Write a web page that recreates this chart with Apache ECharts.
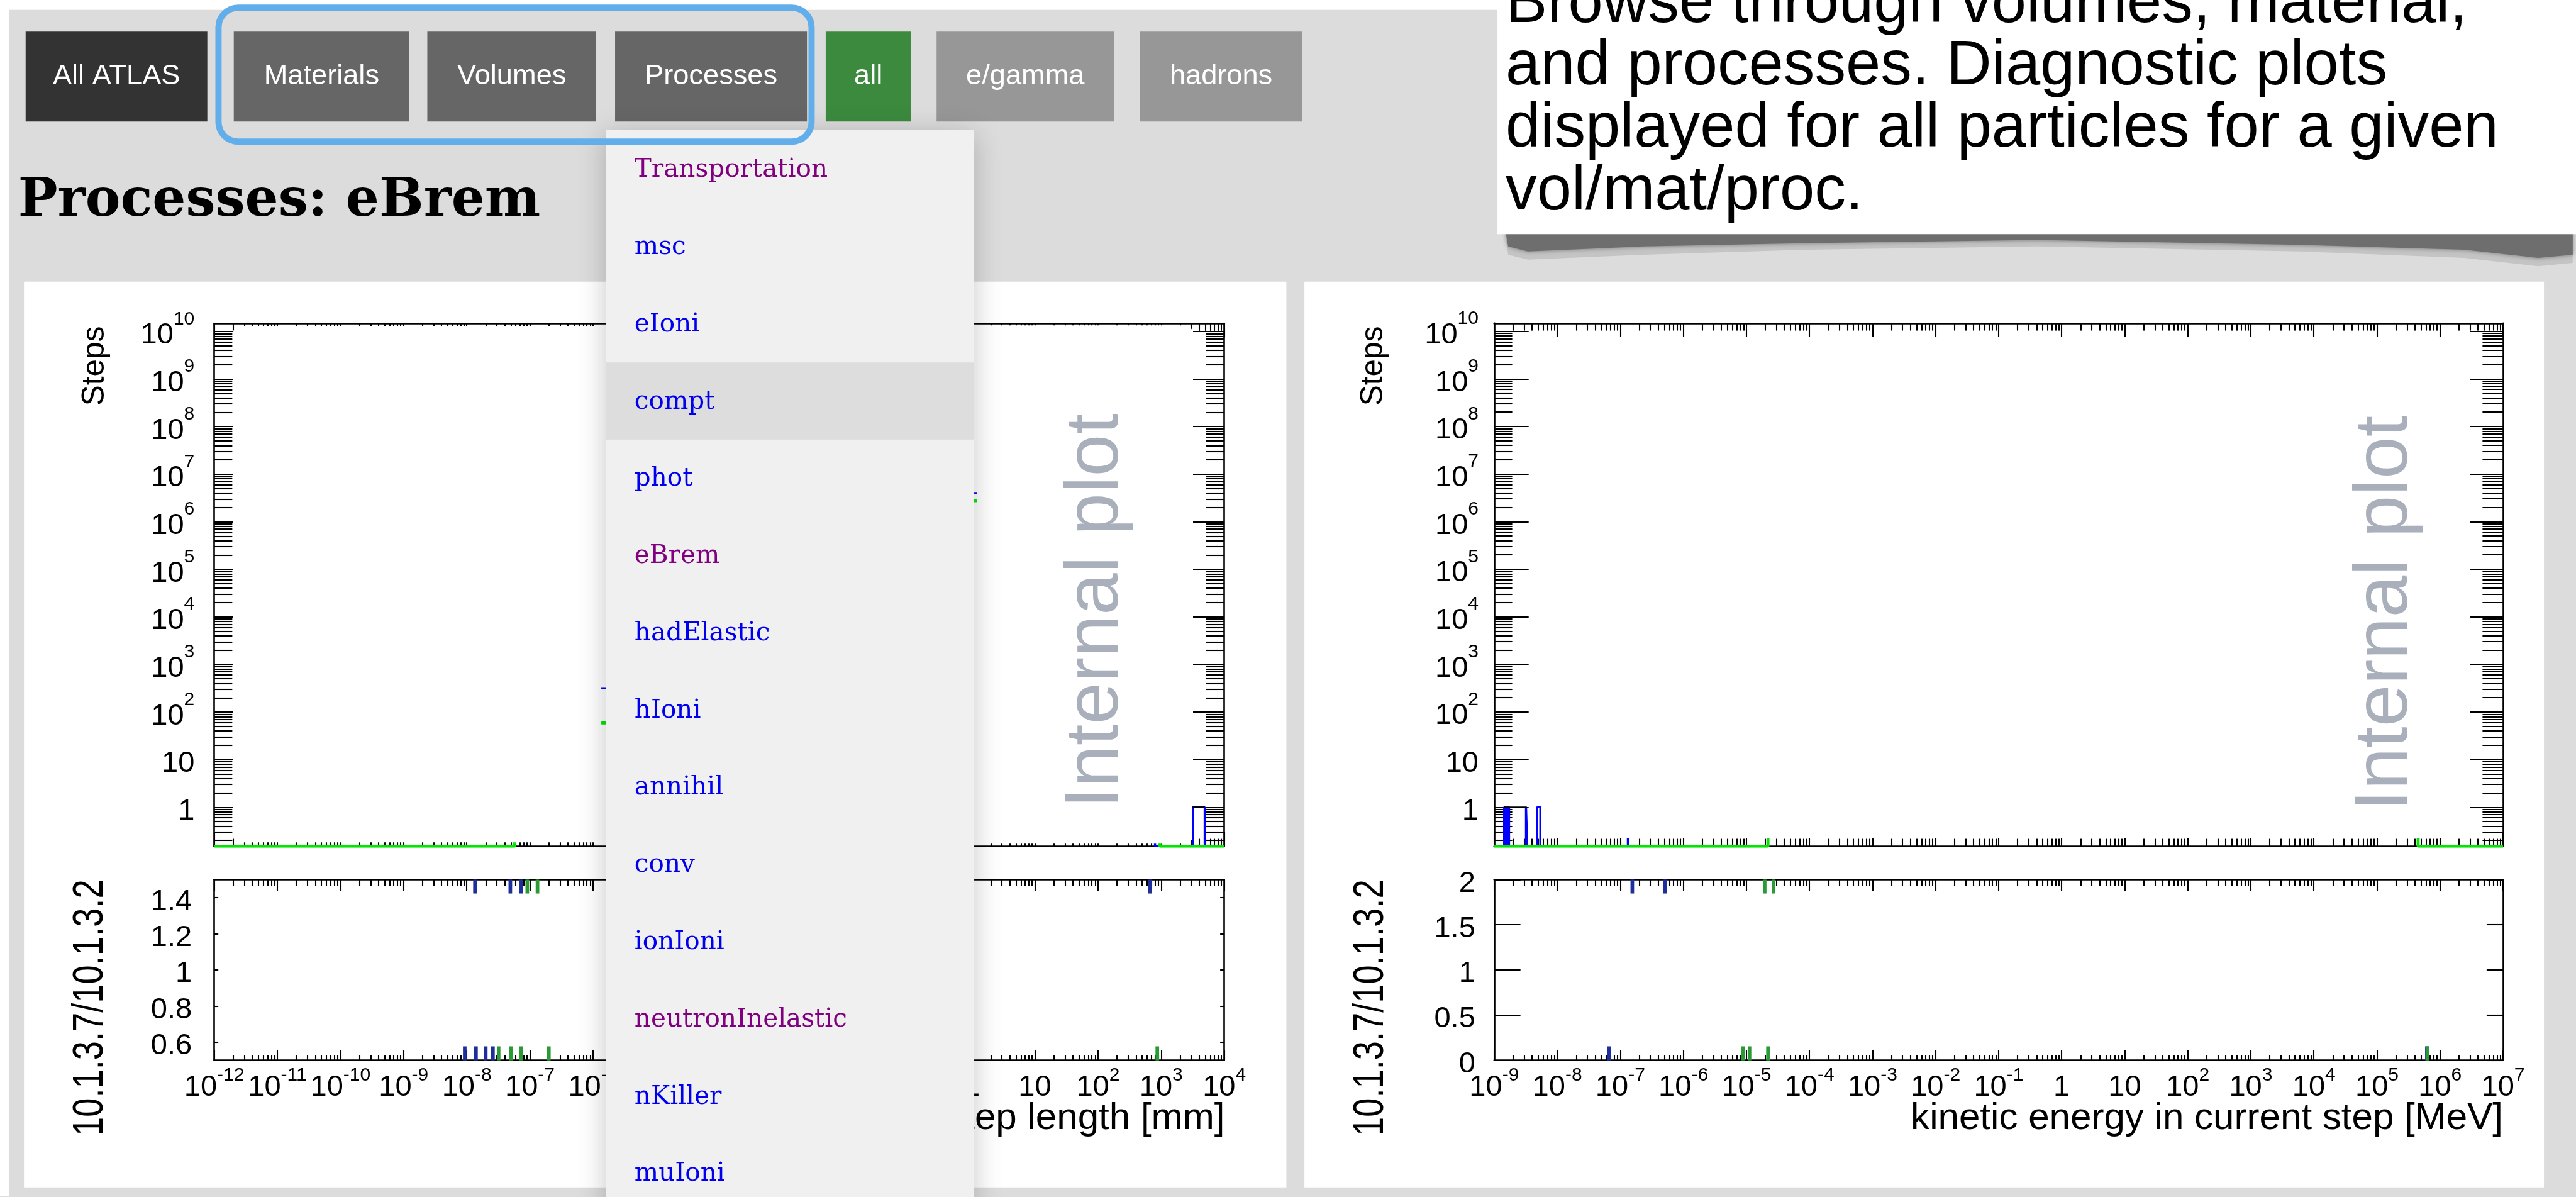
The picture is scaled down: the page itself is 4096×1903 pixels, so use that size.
<!DOCTYPE html>
<html>
<head>
<meta charset="utf-8">
<script src="https://cdn.jsdelivr.net/npm/echarts@6.0.0/dist/echarts.min.js"></script>
<style>
html,body{margin:0;padding:0;background:#dcdcdc;overflow:hidden}
#c{width:4096px;height:1903px}
</style>
</head>
<body>
<div id="c"></div>
<script>
// ---------------- data ----------------
const navButtons = ['All ATLAS', 'Materials', 'Volumes', 'Processes', 'all', 'e/gamma', 'hadrons'];
const processItems = ['Transportation', 'msc', 'eIoni', 'compt', 'phot', 'eBrem', 'hadElastic', 'hIoni',
  'annihil', 'conv', 'ionIoni', 'neutronInelastic', 'nKiller', 'muIoni'];
const visitedItems = ['Transportation', 'eBrem', 'neutronInelastic'];
const highlightedItem = 'compt';
const pageTitle = 'Processes: eBrem';
const noteLines = ['Browse through volumes, material,', 'and processes. Diagnostic plots',
  'displayed for all particles for a given', 'vol/mat/proc.'];
const watermark = 'Internal plot';

const stepLenExps = [-12, -11, -10, -9, -8, -7, -6, -5, -4, -3, -2, -1, 0, 1, 2, 3, 4];
const stepLenLabels = ['10^-12', '10^-11', '10^-10', '10^-9', '10^-8', '10^-7', '10^-6', '10^-5', '10^-4',
  '10^-3', '10^-2', '10^-1', '1', '10', '10^2', '10^3', '10^4'];
const kinEExps = [-9, -8, -7, -6, -5, -4, -3, -2, -1, 0, 1, 2, 3, 4, 5, 6, 7];
const kinELabels = ['10^-9', '10^-8', '10^-7', '10^-6', '10^-5', '10^-4', '10^-3', '10^-2', '10^-1',
  '1', '10', '10^2', '10^3', '10^4', '10^5', '10^6', '10^7'];
const stepsExps = [0, 1, 2, 3, 4, 5, 6, 7, 8, 9, 10];
const stepsLabels = ['1', '10', '10^2', '10^3', '10^4', '10^5', '10^6', '10^7', '10^8', '10^9', '10^10'];
const ratioStepTicks = [0.6, 0.8, 1, 1.2, 1.4];
const ratioStepLabels = ['0.6', '0.8', '1', '1.2', '1.4'];
const ratioKinETicks = [0, 0.5, 1, 1.5, 2];
const ratioKinELabels = ['0', '0.5', '1', '1.5', '2'];

const titleSteps = 'Steps';
const titleRatio = '10.1.3.7/10.1.3.2';
const titleStepLen = 'step length [mm]';
const titleKinE = 'kinetic energy in current step [MeV]';

// histograms: [lower bin edge, entries]  (0 entries drawn on the frame bottom, as ROOT does)
const stepLenBlue = [[1e-12, 0], [5.75e-8, 4], [1.0e-6, 186], [1.26e-6, 316], [0.5, 4.0e6], [800, 0], [3160, 1], [4900, 0], [1e4, 0]];
const stepLenGreen = [[1e-12, 0], [5.75e-8, 3], [1.0e-6, 31], [1.26e-6, 59], [0.5, 2.75e6], [955, 0], [1e4, 0]];
const stepLenBlack = [[3160, 1], [4900, 1]];
const kinEBlue = [[1e-9, 0], [1.44e-9, 1], [1.52e-9, 0], [1.62e-9, 1], [1.72e-9, 0], [3.2e-9, 1], [3.35e-9, 0],
  [4.8e-9, 1], [5.4e-9, 0], [1.32e-7, 1500], [4.5e5, 0], [1e7, 0]];
const kinEGreen = [[1e-9, 0], [2.2e-5, 800], [4.5e5, 0], [1e7, 0]];
const kinEBlack = [[1.44e-9, 1], [3.3e-9, 1]];

// ratio points outside the drawn range: [x, ratio]
const ratioStepBlue = [[1.35e-8, 2], [4.9e-8, 2], [7.2e-8, 2], [660, 2], [9.3e-9, 0], [1.4e-8, 0], [2.0e-8, 0], [2.6e-8, 0]];
const ratioStepGreen = [[9.1e-8, 2], [1.32e-7, 2], [3.2e-8, 0], [5.0e-8, 0], [7.2e-8, 0], [2.0e-7, 0], [870, 0]];
const ratioKinEBlue = [[1.55e-7, 3], [5.1e-7, 3], [6.6e-8, 0], [6.2e5, 0]];
const ratioKinEGreen = [[1.95e-5, 3], [2.7e-5, 3], [8.9e-6, 0], [1.12e-5, 0], [2.2e-5, 0], [6.3e5, 0]];

// ---------------- layout helpers ----------------
const S = 4096 / 1568;
const p = v => v * S;
const SANS = '"Liberation Sans", Arial, Helvetica, sans-serif';
const SERIF = '"DejaVu Serif", Georgia, serif';
const fnt = (size, fam, w) => (w ? w + ' ' : '') + p(size).toFixed(1) + 'px ' + fam;
const G = [];
function box(x, y, w, h, style, z, r) {
  G.push({ type: 'rect', silent: true, z: z, shape: { x: p(x), y: p(y), width: p(w), height: p(h), r: r ? p(r) : 0 }, style: style });
}
function txt(x, y, str, size, fam, fill, o) {
  o = o || {};
  const al = o.align || 'left', va = o.va || 'middle';
  G.push({ type: 'text', silent: true, x: p(x), y: p(y), rotation: o.rot || 0, scaleX: o.sx || 1, z: o.z || 5,
    style: { text: str, font: fnt(size, fam, o.weight), fill: fill, align: al, verticalAlign: va, textAlign: al, textVerticalAlign: va } });
}
const mid = (baseline, size) => baseline - 0.346 * size;

// page
box(0, 0, 912, 6, { fill: '#ffffff' }, -10);
box(0, 0, 5.5, 728, { fill: '#ffffff' }, -10);
box(14.6, 171.4, 768.4, 551.3, { fill: '#ffffff' }, -9);
box(794, 171.4, 754.5, 551.3, { fill: '#ffffff' }, -9);

// nav buttons
const btnLayout = [[15.6, 126.2, '#333333'], [142.3, 249.2, '#666666'], [260.1, 362.9, '#666666'], [374.4, 491.2, '#666666'],
  [502.6, 554.5, '#3b8a3e'], [570.1, 678.1, '#979797'], [693.7, 792.8, '#979797']];
navButtons.forEach((b, i) => {
  const [x0, x1, c] = btnLayout[i];
  box(x0, 19.2, x1 - x0, 54.8, { fill: c }, 3);
  txt((x0 + x1) / 2, 46.6, b, 17.3, SANS, '#ffffff', { align: 'center', z: 4 });
});
// page title
txt(11, mid(134, 32), pageTitle, 32, SERIF, '#000000', { weight: 'bold' });

// annotation note (top right)
G.push({ type: 'polygon', silent: true, z: 1, shape: { points: [[916, 138], [1566, 138], [1566, 160], [1545, 162], [1500, 157], [1400, 153], [1240, 150], [1100, 152], [1000, 155], [930, 158], [918, 155]].map(q => [p(q[0]), p(q[1])]) }, style: { fill: '#c4c4c4' } });
G.push({ type: 'polygon', silent: true, z: 1, shape: { points: [[916, 138], [1566, 138], [1566, 155], [1545, 157], [1500, 152], [1400, 149], [1240, 146], [1100, 148], [1000, 150], [930, 153], [918, 150]].map(q => [p(q[0]), p(q[1])]) }, style: { fill: '#6e6e6e', shadowBlur: p(3), shadowColor: '#777' } });
box(911.5, -2, 660, 144.5, { fill: '#ffffff' }, 2);
noteLines.forEach((l, i) => txt(916.5, mid(16 + 38 * i, 38), l, 38, SANS, '#000000', { z: 3 }));

// ---------------- plot frames ----------------
const gridsDef = [
  { x: 130.4, y: 196.8, w: 614.8, h: 318.2 },
  { x: 130.4, y: 535.3, w: 614.8, h: 110 },
  { x: 909.5, y: 196.7, w: 614.1, h: 318.3 },
  { x: 909.5, y: 535.3, w: 614.1, h: 110 }
];
const grid = gridsDef.map(g => ({ left: p(g.x), top: p(g.y), width: p(g.w), height: p(g.h), show: false, containLabel: false }));

function logTicks(lo, hi) {
  const maj = [], mn = [];
  for (let d = Math.floor(lo); d <= Math.ceil(hi); d++) {
    if (d >= lo - 1e-9 && d <= hi + 1e-9) maj.push(d);
    for (let k = 2; k <= 9; k++) { const v = d + Math.log10(k); if (v > lo && v < hi) mn.push(v); }
  }
  return { maj, mn };
}
function richFmt(str, hasSupAxis) {
  const m = str.match(/^10\^(.+)$/);
  if (m) return '{b|10}{s|' + m[1] + '}';
  return hasSupAxis ? '{b|' + str + '}{s|\u200b}' : '{b|' + str + '}';
}
const richX = {
  b: { fontSize: p(18), fontFamily: SANS, color: '#000' },
  s: { fontSize: p(11.5), fontFamily: SANS, color: '#000', padding: [0, 0, p(15), 0] }
};
const richY = {
  b: { fontSize: p(18), fontFamily: SANS, color: '#000', padding: [p(5), 0, 0, 0] },
  s: { fontSize: p(11.5), fontFamily: SANS, color: '#000', padding: [0, 0, p(15), 0] }
};
const xAxes = [], yAxes = [];
function addPair(list, gi, pos, range, maj, mn, majLen, minLen, lab) {
  const base = { type: 'value', gridIndex: gi, position: pos, min: range[0], max: range[1], silent: true,
    splitLine: { show: false }, minorTick: { show: false }, axisPointer: { show: false } };
  const a = Object.assign({}, base, {
    axisLine: { show: true, onZero: false, lineStyle: { color: '#000', width: p(1) } },
    axisTick: { show: true, inside: true, length: p(majLen), customValues: maj, lineStyle: { color: '#000', width: p(0.8) } },
    axisLabel: { show: false }
  });
  if (lab) {
    const hasSup = lab.labels.some(s => s.indexOf('^') >= 0);
    a.axisLabel = { show: true, customValues: lab.vals, margin: p(lab.margin), rich: lab.rich,
      fontSize: p(18), fontFamily: SANS, color: '#000',
      formatter: v => { const i = lab.vals.findIndex(t => Math.abs(t - v) < 1e-6); return i < 0 ? '' : richFmt(lab.labels[i], hasSup); } };
  }
  list.push(a);
  const idx = list.length - 1;
  if (mn && mn.length) {
    list.push(Object.assign({}, base, {
      axisLine: { show: false, onZero: false },
      axisTick: { show: true, inside: true, length: p(minLen), customValues: mn, lineStyle: { color: '#000', width: p(0.8) } },
      axisLabel: { show: false }
    }));
  }
  return idx;
}
const ax = [];
const yMainRange = [-0.82, 10.17];
const yMainT = logTicks(yMainRange[0], yMainRange[1]);
// grid 0: step length main
{
  const xr = [-12, 4], t = logTicks(xr[0], xr[1]);
  const xi = addPair(xAxes, 0, 'bottom', xr, t.maj, t.mn, 8.5, 4.5);
  addPair(xAxes, 0, 'top', xr, t.maj, t.mn, 8.5, 4.5);
  const yi = addPair(yAxes, 0, 'left', yMainRange, yMainT.maj, yMainT.mn, 21, 11, { vals: stepsExps, labels: stepsLabels, margin: 12, rich: richY });
  addPair(yAxes, 0, 'right', yMainRange, yMainT.maj, yMainT.mn, 19, 11);
  ax[0] = { x: xi, y: yi, yr: yMainRange };
}
// grid 1: step length ratio
{
  const xr = [-12, 4], t = logTicks(xr[0], xr[1]), yr = [0.5, 1.5];
  const xi = addPair(xAxes, 1, 'bottom', xr, t.maj, t.mn, 6, 3, { vals: stepLenExps, labels: stepLenLabels, margin: 3.4, rich: richX });
  addPair(xAxes, 1, 'top', xr, t.maj, t.mn, 7, 4);
  const yi = addPair(yAxes, 1, 'left', yr, ratioStepTicks, null, 2.5, 0, { vals: ratioStepTicks, labels: ratioStepLabels, margin: 13.6, rich: richY });
  addPair(yAxes, 1, 'right', yr, ratioStepTicks, null, 2.5, 0);
  ax[1] = { x: xi, y: yi, yr: yr };
}
// grid 2: kinetic energy main
{
  const xr = [-9, 7], t = logTicks(xr[0], xr[1]);
  const xi = addPair(xAxes, 2, 'bottom', xr, t.maj, t.mn, 8.5, 4.5);
  addPair(xAxes, 2, 'top', xr, t.maj, t.mn, 8.5, 4.5);
  const yi = addPair(yAxes, 2, 'left', yMainRange, yMainT.maj, yMainT.mn, 21, 11, { vals: stepsExps, labels: stepsLabels, margin: 9.5, rich: richY });
  addPair(yAxes, 2, 'right', yMainRange, yMainT.maj, yMainT.mn, 20, 12.5);
  ax[2] = { x: xi, y: yi, yr: yMainRange };
}
// grid 3: kinetic energy ratio
{
  const xr = [-9, 7], t = logTicks(xr[0], xr[1]), yr = [0, 2];
  const xi = addPair(xAxes, 3, 'bottom', xr, t.maj, t.mn, 6, 3, { vals: kinEExps, labels: kinELabels, margin: 3.4, rich: richX });
  addPair(xAxes, 3, 'top', xr, t.maj, t.mn, 7, 4);
  const yi = addPair(yAxes, 3, 'left', yr, ratioKinETicks, null, 16, 0, { vals: ratioKinETicks, labels: ratioKinELabels, margin: 11.5, rich: richY });
  addPair(yAxes, 3, 'right', yr, ratioKinETicks, null, 10, 0);
  ax[3] = { x: xi, y: yi, yr: yr };
}

// ---------------- series ----------------
const series = [];
function hist(gi, pts, color, width, z) {
  const yMin = ax[gi].yr[0];
  series.push({ type: 'line', xAxisIndex: ax[gi].x, yAxisIndex: ax[gi].y, step: 'end', symbol: 'none', silent: true,
    clip: true, z: z || 3, animation: false,
    data: pts.map(([x, y]) => [Math.log10(x), y > 0 ? Math.log10(y) : yMin]),
    lineStyle: { color: color, width: p(width) } });
}
function ratioMarks(gi, pts, color) {
  const [lo, hi] = ax[gi].yr;
  series.push({ type: 'custom', xAxisIndex: ax[gi].x, yAxisIndex: ax[gi].y, silent: true, z: 4, animation: false,
    data: pts.map(([x, v]) => [Math.log10(x), v]),
    renderItem: (params, api) => {
      const v = api.value(1), top = v >= hi;
      const c = api.coord([api.value(0), Math.min(Math.max(v, lo), hi)]);
      const L = p(8.5);
      return { type: 'line', shape: { x1: c[0], y1: c[1], x2: c[0], y2: top ? c[1] + L : c[1] - L },
        style: { stroke: color, lineWidth: p(2.2) } };
    } });
}
hist(0, stepLenBlue, '#0000ff', 1.3, 3);
hist(0, stepLenGreen, '#00e600', 1.8, 3);
hist(0, stepLenBlack, '#000000', 0.8, 3);
hist(2, kinEBlue, '#0000ff', 1.3, 3);
hist(2, kinEGreen, '#00e600', 1.8, 3);
hist(2, kinEBlack, '#000000', 0.8, 3);
ratioMarks(1, ratioStepBlue, '#1e2f9c');
ratioMarks(1, ratioStepGreen, '#2a9a34');
ratioMarks(3, ratioKinEBlue, '#1e2f9c');
ratioMarks(3, ratioKinEGreen, '#2a9a34');

// ---------------- overlays & texts ----------------
box(142, 198.4, 224, 314.3, { fill: '#ffffff' }, 20, 4);
box(594.5, 198, 131.2, 315.4, { fill: '#ffffff' }, 20, 4);
box(939.5, 206.9, 563.8, 303.3, { fill: '#ffffff' }, 20, 4);
txt(667.7, 492, watermark, 46, SANS, '#a9b0bb', { rot: Math.PI / 2, z: 21 });
txt(1452.5, 493.4, watermark, 46, SANS, '#a9b0bb', { rot: Math.PI / 2, z: 21 });

// axis titles
txt(58, 198.5, titleSteps, 19, SANS, '#000', { rot: Math.PI / 2, align: 'right', z: 6 });
txt(836, 198.5, titleSteps, 19, SANS, '#000', { rot: Math.PI / 2, align: 'right', z: 6 });
txt(55.4, 535.3, titleRatio, 26, SANS, '#000', { rot: Math.PI / 2, align: 'right', sx: 0.8, z: 6 });
txt(834.8, 535.3, titleRatio, 26, SANS, '#000', { rot: Math.PI / 2, align: 'right', sx: 0.8, z: 6 });
txt(745.5, mid(688.7, 23), titleStepLen, 23, SANS, '#000', { align: 'right', z: 6 });
txt(1523.6, mid(688.7, 23), titleKinE, 23, SANS, '#000', { align: 'right', z: 6 });

// dropdown menu
box(368.7, 79, 224.3, 670, { fill: '#f0f0f0', shadowBlur: p(16), shadowColor: 'rgba(0,0,0,0.22)', shadowOffsetY: p(3) }, 30);
processItems.forEach((it, i) => {
  if (it === highlightedItem) box(368.7, 220.6, 224.3, 46.9, { fill: '#dddddd' }, 31);
  const col = visitedItems.indexOf(it) >= 0 ? '#800080' : '#0000ee';
  txt(386.2, mid(109 + 47 * i, 15.5), it, 15.5, SERIF, col, { z: 32 });
});
// highlight frame around navigation group
box(133, 4.7, 361, 81.5, { fill: 'none', stroke: '#62aeea', lineWidth: p(3.8) }, 40, 12);

const chart = echarts.init(document.getElementById('c'), null, { renderer: 'canvas' });
chart.setOption({
  animation: false,
  backgroundColor: '#dcdcdc',
  grid: grid,
  xAxis: xAxes,
  yAxis: yAxes,
  series: series,
  graphic: { elements: G }
});
</script>
</body>
</html>
